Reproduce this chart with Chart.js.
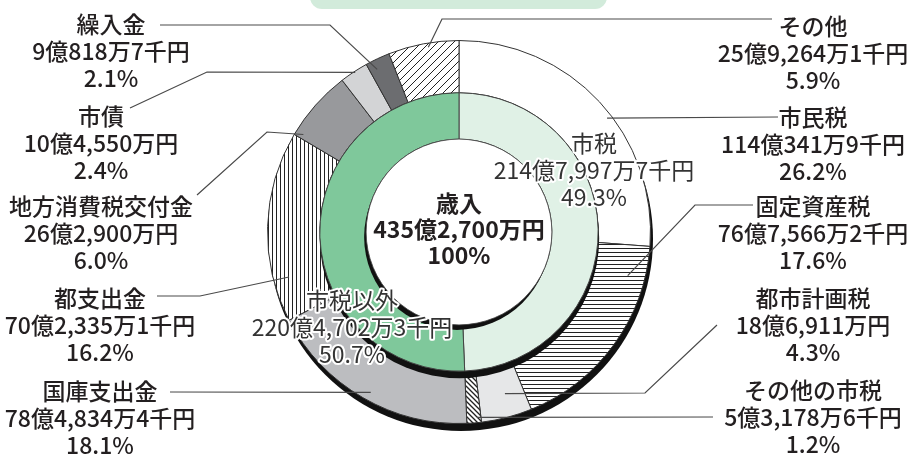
<!DOCTYPE html>
<html><head><meta charset="utf-8">
<script src="https://cdn.jsdelivr.net/npm/chart.js@4/dist/chart.umd.min.js"></script>
<style>html,body{margin:0;padding:0;background:#fff;overflow:hidden}</style>
</head><body>
<canvas id="c" width="912" height="457" style="width:912px;height:457px;display:block"></canvas>
<script>
// ---- data (amounts in 千円) ----
const outerCategories = ['市民税','固定資産税','都市計画税','その他の市税','国庫支出金','都支出金','地方消費税交付金','市債','繰入金','その他'];
const outerAmounts = [11403419, 7675662, 1869110, 531786, 7848344, 7023351, 2629000, 1045500, 908187, 2592641];
const outerAmountLabels = ['114億341万9千円','76億7,566万2千円','18億6,911万円','5億3,178万6千円','78億4,834万4千円','70億2,335万1千円','26億2,900万円','10億4,550万円','9億818万7千円','25億9,264万1千円'];
const outerPercentLabels = ['26.2%','17.6%','4.3%','1.2%','18.1%','16.2%','6.0%','2.4%','2.1%','5.9%'];
const innerCategories = ['市税','市税以外'];
const innerAmounts = [21479977, 22047023];
const innerAmountLabels = ['214億7,997万7千円','220億4,702万3千円'];
const innerPercentLabels = ['49.3%','50.7%'];
const totalLabel = ['歳入','435億2,700万円','100%'];

// ---- styles ----
const FONT = '"Noto Sans CJK JP","Noto Sans",sans-serif';
const TXT = '#231f20';
function makePattern(kind){
  const s = kind==='h'||kind==='v' ? 4 : (kind==='/' ? 8 : 5);
  const c = document.createElement('canvas'); c.width=s; c.height=s;
  const g = c.getContext('2d');
  g.fillStyle='#fff'; g.fillRect(0,0,s,s);
  g.strokeStyle='#222'; g.lineWidth = kind==='\\' ? 1.3 : 1;
  g.beginPath();
  if(kind==='h'){ g.moveTo(0,0.5); g.lineTo(s,0.5); }
  else if(kind==='v'){ g.moveTo(0.5,0); g.lineTo(0.5,s); }
  else if(kind==='/'){ g.moveTo(-1,s+1); g.lineTo(s+1,-1); g.moveTo(-1,1); g.lineTo(1,-1); g.moveTo(s-1,s+1); g.lineTo(s+1,s-1); }
  else { g.moveTo(-1,-1); g.lineTo(s+1,s+1); g.moveTo(s-1,-1); g.lineTo(s+1,1); g.moveTo(-1,s-1); g.lineTo(1,s+1); }
  g.stroke();
  return g.createPattern(c,'repeat');
}
const outerColors = ['#ffffff', makePattern('h'), '#e6e7e8', makePattern('\\'), '#bcbdc0', makePattern('v'), '#98999c', '#d3d4d6', '#6c6d70', makePattern('/')];
const innerColors = ['#e0f1e6', '#7fc89b'];

// label layout: t = position along slice, u = position across ring, path = leader points, x/y = text
const outerLayout = [
  {t:.556,u:.91, path:[[778,117]], x:813, y:117},
  {t:.16, u:.67, path:[[695,205],[753,205]], x:813, y:206},
  {t:.41, u:.55, path:[[645,393],[717,325]], x:813, y:298},
  {t:.27, u:.9,  path:[[713,417]], x:813, y:390},
  {t:.48, u:.84, path:[[170,392]], x:100, y:391},
  {t:.217,u:.7,  path:[[200,296],[157,296]], x:100, y:298},
  {t:.065,u:.85, path:[[267,132],[197,195]], x:101, y:206},
  {t:.53, u:.98, path:[[207,72],[130,108]], x:101, y:116},
  {t:.3,  u:.82, path:[[330,25],[160,25]], x:111, y:24},
  {t:.56, u:.92, path:[[442,19],[772,19]], x:813, y:26}
];
const innerLayout = [{x:594,y:143},{x:352,y:300}];
const LH = 27;

const stackPlugin = {
  id:'stack3d',
  beforeDraw(chart){
    const ctx = chart.ctx;
    ctx.save();
    ctx.fillStyle = '#d2ebdb';
    ctx.beginPath(); ctx.roundRect(310,-30,297,39,12); ctx.fill();
    ctx.restore();
  },
  beforeDatasetsDraw(chart){
    const ctx = chart.ctx;
    const m0 = chart.getDatasetMeta(0), m1 = chart.getDatasetMeta(1);
    const a0 = m0.data[0], a1 = m1.data[0];
    const cx=a0.x, cy=a0.y, R0=a0.outerRadius, R1=a1.outerRadius, r1=a1.innerRadius;
    const disc=(x,y,r,col)=>{ctx.beginPath();ctx.arc(x,y,r,0,Math.PI*2);ctx.fillStyle=col;ctx.fill();};
    ctx.save(); disc(cx+2, cy+7, R0+0.5, '#111'); ctx.restore();
    m0.controller.draw();
    ctx.save(); disc(cx+0.5, cy+6.5, R1+0.5, '#111'); ctx.restore();
    m1.controller.draw();
    ctx.save();
    disc(cx-2, cy+5, r1, '#111');
    disc(cx, cy, r1, '#fff');
    ctx.beginPath(); ctx.arc(cx,cy,r1,0,Math.PI*2); ctx.strokeStyle='#444'; ctx.lineWidth=0.8; ctx.stroke();
    ctx.restore();
    return false;
  },
  afterDraw(chart){
    const ctx = chart.ctx;
    const m0 = chart.getDatasetMeta(0);
    ctx.save();
    // leader lines
    m0.data.forEach((arc,i)=>{
      const L = outerLayout[i];
      const ang = arc.startAngle + L.t*(arc.endAngle-arc.startAngle);
      const rad = arc.innerRadius + L.u*(arc.outerRadius-arc.innerRadius);
      ctx.beginPath();
      ctx.moveTo(arc.x + rad*Math.cos(ang), arc.y + rad*Math.sin(ang));
      L.path.forEach(p=>ctx.lineTo(p[0],p[1]));
      ctx.strokeStyle='#4a4a4a'; ctx.lineWidth=1.2; ctx.stroke();
    });
    // outer labels
    ctx.textAlign='center'; ctx.textBaseline='middle';
    ctx.font = '500 23px '+FONT; ctx.fillStyle = TXT;
    outerCategories.forEach((name,i)=>{
      const L = outerLayout[i];
      ctx.fillText(name, L.x, L.y);
      ctx.fillText(outerAmountLabels[i], L.x, L.y+LH);
      ctx.fillText(outerPercentLabels[i], L.x, L.y+2*LH);
    });
    // inner labels with halo
    ctx.lineJoin='round';
    ctx.font = '23px '+FONT;
    innerCategories.forEach((name,i)=>{
      const L = innerLayout[i];
      [name, innerAmountLabels[i], innerPercentLabels[i]].forEach((s,k)=>{
        ctx.strokeStyle='#fff'; ctx.lineWidth=4; ctx.strokeText(s, L.x, L.y+k*LH);
        ctx.fillStyle='#333'; ctx.fillText(s, L.x, L.y+k*LH);
      });
    });
    // center
    const a = m0.data[0];
    ctx.font = 'bold 23px '+FONT; ctx.fillStyle = TXT;
    totalLabel.forEach((s,k)=>ctx.fillText(s, a.x, a.y - 29 + k*26));
    ctx.restore();
  }
};

new Chart(document.getElementById('c'), {
  type:'doughnut',
  data:{
    labels: outerCategories,
    datasets:[
      {data: outerAmounts, backgroundColor: outerColors, borderColor:'#333', borderWidth:1, weight:52},
      {data: innerAmounts, backgroundColor: innerColors, borderColor:'#444', borderWidth:1, weight:46}
    ]
  },
  options:{
    responsive:false, animation:false, devicePixelRatio:1,
    cutout:'48.5%',
    layout:{padding:{left:267,right:261,top:40,bottom:33}},
    plugins:{legend:{display:false}, tooltip:{enabled:false}}
  },
  plugins:[stackPlugin]
});
</script>
</body></html>
